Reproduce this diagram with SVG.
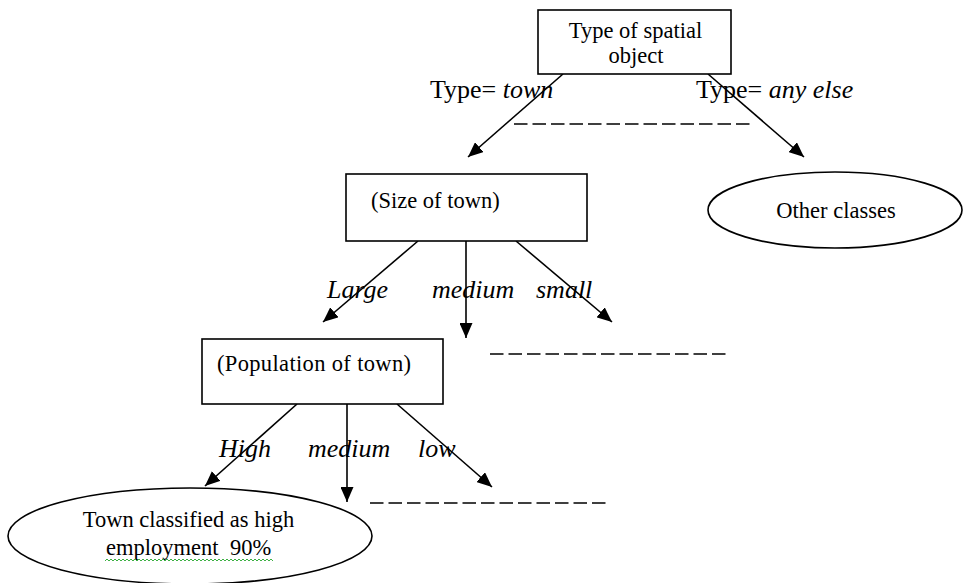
<svg xmlns="http://www.w3.org/2000/svg" width="964" height="583" viewBox="0 0 964 583">
<style>
  .box { fill: #fff; stroke: #000; stroke-width: 1.6; }
  .ell { fill: #fff; stroke: #000; stroke-width: 1.6; }
  .nt { font-family: "Liberation Serif", "Times New Roman", serif; font-size: 22.5px; fill: #000; }
  .lb { font-family: "Liberation Serif", "Times New Roman", serif; font-size: 26px; fill: #000; }
  .it { font-style: italic; }
  .cn { stroke: #000; stroke-width: 1.6; fill: none; marker-end: url(#ah); }
  .dash { stroke: #000; stroke-width: 1.6; stroke-dasharray: 13.5 5; fill: none; }
</style>
<defs>
  <marker id="ah" viewBox="0 0 15 13" refX="15" refY="6.5" markerWidth="15" markerHeight="13" markerUnits="userSpaceOnUse" orient="auto">
    <path d="M0,0 L15,6.5 L0,13 z" fill="#000"/>
  </marker>
</defs>
<rect width="964" height="583" fill="#fff"/>

<g id="connectors">
  <line class="cn" x1="563" y1="74" x2="468" y2="157"/>
  <line class="cn" x1="708" y1="74" x2="804" y2="157"/>
  <line class="cn" x1="418" y1="241" x2="323" y2="322"/>
  <line class="cn" x1="466" y1="241" x2="466" y2="338"/>
  <line class="cn" x1="516" y1="241" x2="612" y2="322"/>
  <line class="cn" x1="297" y1="404" x2="205" y2="486"/>
  <line class="cn" x1="347" y1="404" x2="347" y2="502"/>
  <line class="cn" x1="397" y1="404" x2="492" y2="487"/>
</g>

<g id="dashes">
  <line class="dash" x1="514" y1="124" x2="750" y2="124"/>
  <line class="dash" x1="490" y1="354" x2="727" y2="354"/>
  <line class="dash" x1="370" y1="503" x2="609" y2="503"/>
</g>

<g id="edge-labels">
  <text class="lb" x="430" y="98">Type= <tspan class="it">town</tspan></text>
  <text class="lb" x="696" y="98">Type= <tspan class="it">any else</tspan></text>
  <text class="lb it" x="327" y="298">Large</text>
  <text class="lb it" x="432" y="298">medium</text>
  <text class="lb it" x="536" y="298">small</text>
  <text class="lb it" x="219" y="457">High</text>
  <text class="lb it" x="308" y="457">medium</text>
  <text class="lb it" x="418" y="457">low</text>
</g>

<g id="node-type">
  <rect class="box" x="538" y="10" width="193" height="64"/>
  <text class="nt" x="635.5" y="38" text-anchor="middle">Type of spatial</text>
  <text class="nt" x="636" y="63" text-anchor="middle">object</text>
</g>

<g id="node-other">
  <ellipse class="ell" cx="835" cy="210" rx="127" ry="38"/>
  <text class="nt" x="836" y="218" text-anchor="middle">Other classes</text>
</g>

<g id="node-size">
  <rect class="box" x="346" y="174" width="241" height="67"/>
  <text class="nt" x="371" y="208">(Size of town)</text>
</g>

<g id="node-population">
  <rect class="box" x="202" y="339" width="241" height="65"/>
  <text class="nt" x="217" y="371" textLength="194" lengthAdjust="spacing">(Population of town)</text>
</g>

<g id="node-result">
  <ellipse class="ell" cx="190" cy="536" rx="182" ry="48"/>
  <text class="nt" x="188.5" y="527" text-anchor="middle">Town classified as high</text>
  <text class="nt" y="555"><tspan x="106">employment</tspan><tspan x="230">90%</tspan></text>
  <path d="M105,561 l2,-2 l2,2 l2,-2 l2,2 l2,-2 l2,2 l2,-2 l2,2 l2,-2 l2,2 l2,-2 l2,2 l2,-2 l2,2 l2,-2 l2,2 l2,-2 l2,2 l2,-2 l2,2 l2,-2 l2,2 l2,-2 l2,2 l2,-2 l2,2 l2,-2 l2,2 l2,-2 l2,2 l2,-2 l2,2 l2,-2 l2,2 l2,-2 l2,2 l2,-2 l2,2 l2,-2 l2,2 l2,-2 l2,2 l2,-2 l2,2 l2,-2 l2,2 l2,-2 l2,2 l2,-2 l2,2 l2,-2 l2,2 l2,-2 l2,2 l2,-2 l2,2 l2,-2 l2,2 l2,-2 l2,2 l2,-2 l2,2 l2,-2 l2,2 l2,-2 l2,2 l2,-2 l2,2 l2,-2 l2,2 l2,-2 l2,2 l2,-2 l2,2 l2,-2 l2,2 l2,-2 l2,2 l2,-2 l2,2 l2,-2 l2,2 l2,-2 l2,2" fill="none" stroke="#3cb043" stroke-width="1"/>
</g>
</svg>
